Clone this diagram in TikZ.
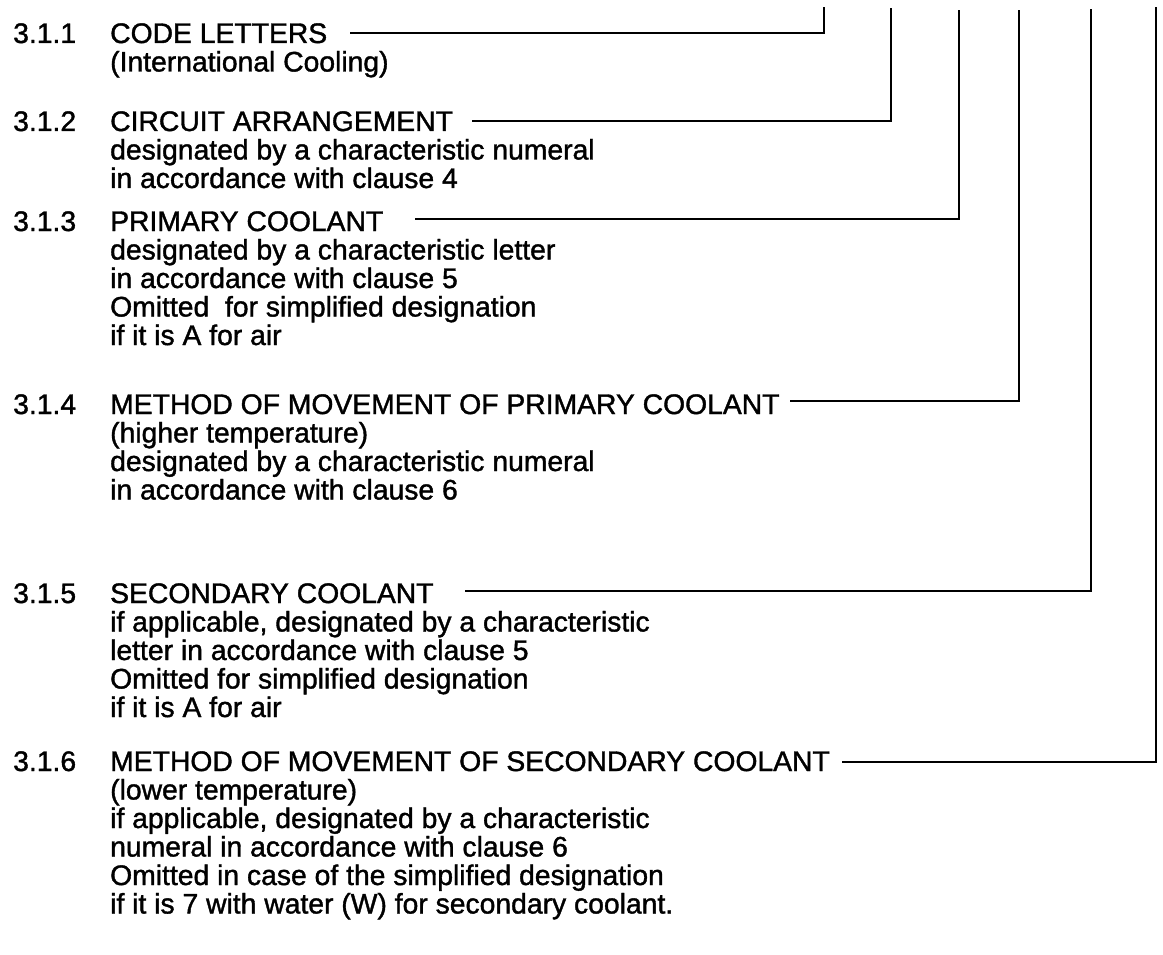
\documentclass[tikz,border=0pt]{standalone}
\usepackage{fontspec}
\setmainfont{Liberation Sans}[FakeBold=1.3]
\begin{document}
\begin{tikzpicture}[x=1pt,y=-1pt,
  txt/.style={anchor=base west, inner sep=0pt, font=\fontsize{28.3pt}{28.5pt}\selectfont},
  leader/.style={line width=2.7pt, line join=miter}]
\useasboundingbox (0,0) rectangle (1163,955);
\fill[white] (0,0) rectangle (1163,955);
% 3.1.1
\node[txt] (n1) at (13,43) {3.1.1};
\node[txt] (h1) at (110,43) {CODE LETTERS};
\node[txt] (b1a) at (110,71.5) {(International Cooling)};
% 3.1.2
\node[txt] (n2) at (13,131) {3.1.2};
\node[txt] (h2) at (110,131) {CIRCUIT ARRANGEMENT};
\node[txt] (b2a) at (110,159.5) {designated by a characteristic numeral};
\node[txt] (b2b) at (110,188) {in accordance with clause 4};
% 3.1.3
\node[txt] (n3) at (13,231) {3.1.3};
\node[txt] (h3) at (110,231) {PRIMARY COOLANT};
\node[txt] (b3a) at (110,259.5) {designated by a characteristic letter};
\node[txt] (b3b) at (110,288) {in accordance with clause 5};
\node[txt] (b3c) at (110,316.5) {Omitted\ \ for simplified designation};
\node[txt] (b3d) at (110,345) {if it is A for air};
% 3.1.4
\node[txt] (n4) at (13,414) {3.1.4};
\node[txt] (h4) at (110,414) {METHOD OF MOVEMENT OF PRIMARY COOLANT};
\node[txt] (b4a) at (110,442.5) {(higher temperature)};
\node[txt] (b4b) at (110,471) {designated by a characteristic numeral};
\node[txt] (b4c) at (110,499.5) {in accordance with clause 6};
% 3.1.5
\node[txt] (n5) at (13,603) {3.1.5};
\node[txt] (h5) at (110,603) {SECONDARY COOLANT};
\node[txt] (b5a) at (110,631.5) {if applicable, designated by a characteristic};
\node[txt] (b5b) at (110,660) {letter in accordance with clause 5};
\node[txt] (b5c) at (110,688.5) {Omitted for simplified designation};
\node[txt] (b5d) at (110,717) {if it is A for air};
% 3.1.6
\node[txt] (n6) at (13,771) {3.1.6};
\node[txt] (h6) at (110,771) {METHOD OF MOVEMENT OF SECONDARY COOLANT};
\node[txt] (b6a) at (110,799.5) {(lower temperature)};
\node[txt] (b6b) at (110,828) {if applicable, designated by a characteristic};
\node[txt] (b6c) at (110,856.5) {numeral in accordance with clause 6};
\node[txt] (b6d) at (110,885) {Omitted in case of the simplified designation};
\node[txt] (b6e) at (110,913.5) {if it is 7 with water (W) for secondary coolant.};
% leader start points and top ends
\coordinate (s1) at (350,33);  \coordinate (t1) at (824,7);
\coordinate (s2) at (472,121); \coordinate (t2) at (891,8);
\coordinate (s3) at (415,219); \coordinate (t3) at (959,10);
\coordinate (s4) at (790,401); \coordinate (t4) at (1019,10);
\coordinate (s5) at (465,591); \coordinate (t5) at (1091,9);
\coordinate (s6) at (842,762); \coordinate (t6) at (1156,7);
\draw[leader] (s1) -| (t1);
\draw[leader] (s2) -| (t2);
\draw[leader] (s3) -| (t3);
\draw[leader] (s4) -| (t4);
\draw[leader] (s5) -| (t5);
\draw[leader] (s6) -| (t6);
\end{tikzpicture}
\end{document}
